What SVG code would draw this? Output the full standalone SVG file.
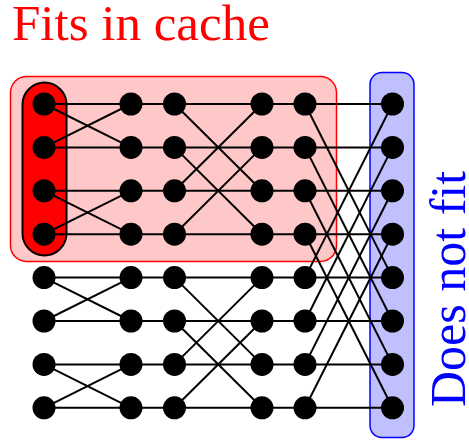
<svg xmlns="http://www.w3.org/2000/svg" width="469" height="442" viewBox="0 0 469 442">
<style>
.e{stroke:#000;stroke-width:2;fill:none}
.n{fill:#000}
.lbl{font-family:"Liberation Serif","Times New Roman",serif}
</style>
<rect width="469" height="442" fill="#fff"/>
<g id="cache-region">
<rect x="10.5" y="76.5" width="326" height="185" rx="16" fill="#ffc8c8" stroke="#f00" stroke-width="1.5"/>
<rect x="22.5" y="82.5" width="44" height="173" rx="22" fill="#f00" stroke="#000" stroke-width="2"/>
</g>
<g id="nofit-region">
<rect x="370" y="72.5" width="44" height="365" rx="12" fill="#c0c0ff" stroke="#00f" stroke-width="1.5"/>
</g>
<g id="connectors">
<line class="e" x1="44" y1="104" x2="392.5" y2="104"/>
<line class="e" x1="44" y1="147.4" x2="392.5" y2="147.4"/>
<line class="e" x1="44" y1="190.8" x2="392.5" y2="190.8"/>
<line class="e" x1="44" y1="234.2" x2="392.5" y2="234.2"/>
<line class="e" x1="44" y1="277.6" x2="392.5" y2="277.6"/>
<line class="e" x1="44" y1="321" x2="392.5" y2="321"/>
<line class="e" x1="44" y1="364.4" x2="392.5" y2="364.4"/>
<line class="e" x1="44" y1="407.8" x2="392.5" y2="407.8"/>
<line class="e" x1="44" y1="104" x2="131" y2="147.4"/>
<line class="e" x1="44" y1="147.4" x2="131" y2="104"/>
<line class="e" x1="44" y1="190.8" x2="131" y2="234.2"/>
<line class="e" x1="44" y1="234.2" x2="131" y2="190.8"/>
<line class="e" x1="44" y1="277.6" x2="131" y2="321"/>
<line class="e" x1="44" y1="321" x2="131" y2="277.6"/>
<line class="e" x1="44" y1="364.4" x2="131" y2="407.8"/>
<line class="e" x1="44" y1="407.8" x2="131" y2="364.4"/>
<line class="e" x1="174.5" y1="104" x2="262" y2="190.8"/>
<line class="e" x1="174.5" y1="190.8" x2="262" y2="104"/>
<line class="e" x1="174.5" y1="147.4" x2="262" y2="234.2"/>
<line class="e" x1="174.5" y1="234.2" x2="262" y2="147.4"/>
<line class="e" x1="174.5" y1="277.6" x2="262" y2="364.4"/>
<line class="e" x1="174.5" y1="364.4" x2="262" y2="277.6"/>
<line class="e" x1="174.5" y1="321" x2="262" y2="407.8"/>
<line class="e" x1="174.5" y1="407.8" x2="262" y2="321"/>
<line class="e" x1="305" y1="104" x2="392.5" y2="277.6"/>
<line class="e" x1="305" y1="277.6" x2="392.5" y2="104"/>
<line class="e" x1="305" y1="147.4" x2="392.5" y2="321"/>
<line class="e" x1="305" y1="321" x2="392.5" y2="147.4"/>
<line class="e" x1="305" y1="190.8" x2="392.5" y2="364.4"/>
<line class="e" x1="305" y1="364.4" x2="392.5" y2="190.8"/>
<line class="e" x1="305" y1="234.2" x2="392.5" y2="407.8"/>
<line class="e" x1="305" y1="407.8" x2="392.5" y2="234.2"/>
</g>
<g id="n0-0"><circle class="n" cx="44" cy="104" r="11.5"/></g>
<g id="n0-1"><circle class="n" cx="44" cy="147.4" r="11.5"/></g>
<g id="n0-2"><circle class="n" cx="44" cy="190.8" r="11.5"/></g>
<g id="n0-3"><circle class="n" cx="44" cy="234.2" r="11.5"/></g>
<g id="n0-4"><circle class="n" cx="44" cy="277.6" r="11.5"/></g>
<g id="n0-5"><circle class="n" cx="44" cy="321" r="11.5"/></g>
<g id="n0-6"><circle class="n" cx="44" cy="364.4" r="11.5"/></g>
<g id="n0-7"><circle class="n" cx="44" cy="407.8" r="11.5"/></g>
<g id="n1-0"><circle class="n" cx="131" cy="104" r="11.5"/></g>
<g id="n1-1"><circle class="n" cx="131" cy="147.4" r="11.5"/></g>
<g id="n1-2"><circle class="n" cx="131" cy="190.8" r="11.5"/></g>
<g id="n1-3"><circle class="n" cx="131" cy="234.2" r="11.5"/></g>
<g id="n1-4"><circle class="n" cx="131" cy="277.6" r="11.5"/></g>
<g id="n1-5"><circle class="n" cx="131" cy="321" r="11.5"/></g>
<g id="n1-6"><circle class="n" cx="131" cy="364.4" r="11.5"/></g>
<g id="n1-7"><circle class="n" cx="131" cy="407.8" r="11.5"/></g>
<g id="n2-0"><circle class="n" cx="174.5" cy="104" r="11.5"/></g>
<g id="n2-1"><circle class="n" cx="174.5" cy="147.4" r="11.5"/></g>
<g id="n2-2"><circle class="n" cx="174.5" cy="190.8" r="11.5"/></g>
<g id="n2-3"><circle class="n" cx="174.5" cy="234.2" r="11.5"/></g>
<g id="n2-4"><circle class="n" cx="174.5" cy="277.6" r="11.5"/></g>
<g id="n2-5"><circle class="n" cx="174.5" cy="321" r="11.5"/></g>
<g id="n2-6"><circle class="n" cx="174.5" cy="364.4" r="11.5"/></g>
<g id="n2-7"><circle class="n" cx="174.5" cy="407.8" r="11.5"/></g>
<g id="n3-0"><circle class="n" cx="262" cy="104" r="11.5"/></g>
<g id="n3-1"><circle class="n" cx="262" cy="147.4" r="11.5"/></g>
<g id="n3-2"><circle class="n" cx="262" cy="190.8" r="11.5"/></g>
<g id="n3-3"><circle class="n" cx="262" cy="234.2" r="11.5"/></g>
<g id="n3-4"><circle class="n" cx="262" cy="277.6" r="11.5"/></g>
<g id="n3-5"><circle class="n" cx="262" cy="321" r="11.5"/></g>
<g id="n3-6"><circle class="n" cx="262" cy="364.4" r="11.5"/></g>
<g id="n3-7"><circle class="n" cx="262" cy="407.8" r="11.5"/></g>
<g id="n4-0"><circle class="n" cx="305" cy="104" r="11.5"/></g>
<g id="n4-1"><circle class="n" cx="305" cy="147.4" r="11.5"/></g>
<g id="n4-2"><circle class="n" cx="305" cy="190.8" r="11.5"/></g>
<g id="n4-3"><circle class="n" cx="305" cy="234.2" r="11.5"/></g>
<g id="n4-4"><circle class="n" cx="305" cy="277.6" r="11.5"/></g>
<g id="n4-5"><circle class="n" cx="305" cy="321" r="11.5"/></g>
<g id="n4-6"><circle class="n" cx="305" cy="364.4" r="11.5"/></g>
<g id="n4-7"><circle class="n" cx="305" cy="407.8" r="11.5"/></g>
<g id="n5-0"><circle class="n" cx="392.5" cy="104" r="11.5"/></g>
<g id="n5-1"><circle class="n" cx="392.5" cy="147.4" r="11.5"/></g>
<g id="n5-2"><circle class="n" cx="392.5" cy="190.8" r="11.5"/></g>
<g id="n5-3"><circle class="n" cx="392.5" cy="234.2" r="11.5"/></g>
<g id="n5-4"><circle class="n" cx="392.5" cy="277.6" r="11.5"/></g>
<g id="n5-5"><circle class="n" cx="392.5" cy="321" r="11.5"/></g>
<g id="n5-6"><circle class="n" cx="392.5" cy="364.4" r="11.5"/></g>
<g id="n5-7"><circle class="n" cx="392.5" cy="407.8" r="11.5"/></g>
<g id="label-fits"><text class="lbl" x="12" y="40" font-size="51" fill="#f00">Fits in cache</text></g>
<g id="label-nofit"><text class="lbl" transform="translate(465,407) rotate(-90)" font-size="50" fill="#00f">Does not fit</text></g>
</svg>
